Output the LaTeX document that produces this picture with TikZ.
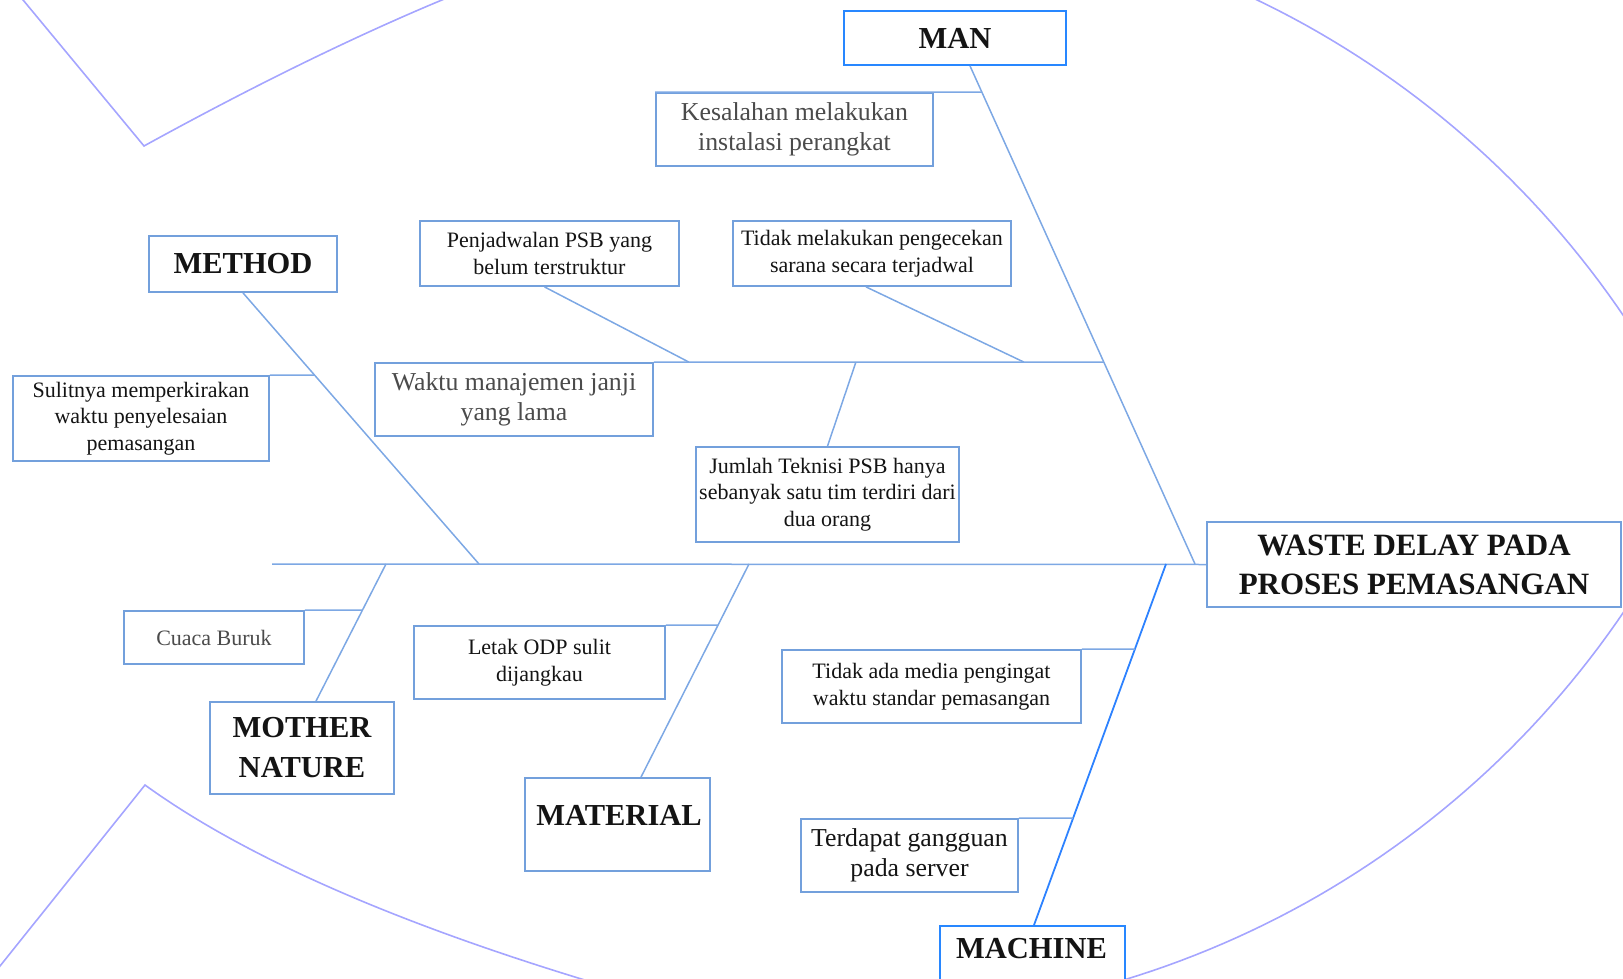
\documentclass[tikz,border=0pt]{standalone}
\usepackage{fontspec}
\setmainfont{Liberation Serif}
\definecolor{boxc}{RGB}{115,160,220}
\definecolor{brightc}{RGB}{40,135,255}
\definecolor{bonec}{RGB}{125,168,228}
\definecolor{machc}{RGB}{45,130,255}
\definecolor{fishc}{RGB}{165,165,255}
\definecolor{txtgray}{RGB}{75,75,75}
\definecolor{txtdark}{RGB}{20,20,20}
\begin{document}
\begin{tikzpicture}[x=1pt,y=-1pt,
  box/.style={draw=boxc, fill=white, line width=1.8pt, rectangle, inner sep=0pt, align=center, text=txtdark},
  brightbox/.style={box, draw=brightc},
  txtsmall/.style={font=\fontsize{22}{26.5}\selectfont},
  txtlarge/.style={font=\fontsize{25.8}{30}\selectfont, text=txtgray},
  txtcat/.style={font=\fontsize{30.5}{40}\selectfont\bfseries, text=txtdark},
  txthead/.style={font=\fontsize{31}{39}\selectfont\bfseries, text=txtdark},
  bone/.style={draw=bonec, line width=1.5pt},
  machbone/.style={draw=machc, line width=1.8pt},
  fish/.style={draw=fishc, line width=1.6pt}]
\useasboundingbox (0,0) rectangle (1623,979);
\clip (0,0) rectangle (1623,979);

% fish outline
\draw[fish] (-20,-52) -- (144,146) .. controls (275.4,73.7) and (443.3,-9.7) .. (587,-52.7)
  -- plot[domain=-106.7:-23.7, samples=90] ({854+930*cos(\x)},{838+930*sin(\x)});
\draw[fish] (-20,991) -- (145,785) .. controls (265,872) and (443.3,937) .. (587,980.7)
  -- plot[domain=106.7:23.7, samples=90] ({854+930*cos(\x)},{90+930*sin(\x)});

% nodes
\node[brightbox, txtcat, minimum width=222pt, minimum height=54pt] (man) at (955,38) {MAN};
\node[box, txtlarge, minimum width=277pt, minimum height=73pt] (kes) at (794.5,129.5) {Kesalahan melakukan\\instalasi perangkat};
\node[box, txtcat, minimum width=188pt, minimum height=56pt] (method) at (243,264) {METHOD};
\node[box, txtsmall, minimum width=259pt, minimum height=65pt] (penj) at (549.5,253.5) {Penjadwalan PSB yang\\belum terstruktur};
\node[box, txtsmall, minimum width=278pt, minimum height=65pt] (tidak) at (872,253.5) {Tidak melakukan pengecekan\\sarana secara terjadwal};
\node[box, txtsmall, minimum width=256pt, minimum height=85pt] (sul) at (141,418.5) {Sulitnya memperkirakan\\waktu penyelesaian\\pemasangan};
\node[box, txtlarge, minimum width=278pt, minimum height=73pt] (waktu) at (514,399.5) {Waktu manajemen janji\\yang lama};
\node[box, txtsmall, minimum width=263pt, minimum height=95pt] (jumlah) at (827.5,494.5) {Jumlah Teknisi PSB hanya\\sebanyak satu tim terdiri dari\\dua orang};
\node[box, txthead, minimum width=414pt, minimum height=85pt] (head) at (1414,564.5) {WASTE DELAY PADA\\PROSES PEMASANGAN};
\node[box, txtsmall, text=txtgray, minimum width=180pt, minimum height=53pt] (cuaca) at (214,637.5) {Cuaca Buruk};
\node[box, txtsmall, minimum width=251pt, minimum height=73pt] (letak) at (539.5,662.5) {Letak ODP sulit\\dijangkau};
\node[box, txtcat, minimum width=184pt, minimum height=92pt] (nature) at (302,748) {MOTHER\\NATURE};
\node[box, minimum width=185pt, minimum height=93pt] (material) at (617.5,824.5) {};
\node[txtcat, anchor=base, inner sep=0pt] (materialtxt) at (619,825) {MATERIAL};
\node[box, txtsmall, minimum width=299pt, minimum height=73pt] (tam) at (931.5,686.5) {Tidak ada media pengingat\\waktu standar pemasangan};
\node[box, txtlarge, text=txtdark, minimum width=217pt, minimum height=73pt] (terd) at (909.5,855.5) {Terdapat gangguan\\pada server};
\node[brightbox, minimum width=185pt, minimum height=80pt] (machine) at (1032.5,966) {};
\node[txtcat, anchor=base, inner sep=0pt] (machinetxt) at (1031.5,958) {MACHINE};

% bone coordinates
\coordinate (manTop) at ([xshift=15pt]man.south);
\coordinate (manEnd) at (1195,564);
\coordinate (methodTop) at (method.south);
\coordinate (methodEnd) at (479,564);
\coordinate (natureTop) at ([xshift=14pt]nature.north);
\coordinate (natureEnd) at (386,564);
\coordinate (materialTop) at ([xshift=23.5pt]material.north);
\coordinate (materialEnd) at (749,564);
\coordinate (machineTop) at ([xshift=1.5pt]machine.north);
\coordinate (machineEnd) at (1166,564);
\coordinate (spineL) at (272,564);

% spine and main bones
\draw[bone] (spineL) -- (head.west);
\draw[bone] (manTop) -- (manEnd);
\draw[bone] (methodTop) -- (methodEnd);
\draw[bone] (natureTop) -- (natureEnd);
\draw[bone] (materialTop) -- (materialEnd);
\draw[machbone] (machineTop) -- (machineEnd);

% branches
\draw[bone] (kes.north west) -- (intersection of kes.north west--kes.north east and manTop--manEnd);
\draw[bone] (waktu.north east) -- (intersection of waktu.north west--waktu.north east and manTop--manEnd);
\draw[bone] ([xshift=-5pt]penj.south) -- ([xshift=35pt]waktu.north east);
\draw[bone] ([xshift=-6pt]tidak.south) -- ([xshift=370pt]waktu.north east);
\draw[bone] (jumlah.north) -- ([xshift=202pt]waktu.north east);
\draw[bone] (sul.north east) -- (intersection of sul.north west--sul.north east and methodTop--methodEnd);
\draw[bone] (cuaca.north east) -- (intersection of cuaca.north west--cuaca.north east and natureTop--natureEnd);
\draw[bone] (letak.north east) -- (intersection of letak.north west--letak.north east and materialTop--materialEnd);
\draw[bone] (tam.north east) -- (intersection of tam.north west--tam.north east and machineTop--machineEnd);
\draw[bone] (terd.north east) -- (intersection of terd.north west--terd.north east and machineTop--machineEnd);
\end{tikzpicture}
\end{document}
